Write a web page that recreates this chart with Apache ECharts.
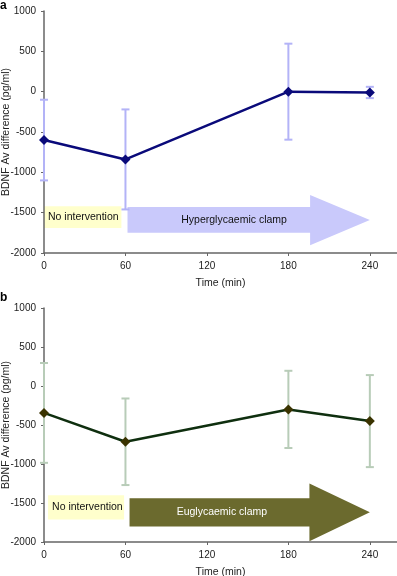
<!DOCTYPE html>
<html>
<head>
<meta charset="utf-8">
<script src="https://cdn.jsdelivr.net/npm/echarts@6/dist/echarts.min.js"></script>
<style>
  html, body { margin: 0; padding: 0; background: #fff; }
  #chart { width: 397px; height: 576px; }
</style>
</head>
<body>
<div id="chart"></div>
<script>
// time points (min)
const times = [0, 60, 180, 240];
const xTicks = [0, 60, 120, 180, 240];

// panel a: hyperglycaemic clamp
const meanA = [-600, -840, 0, -10];
const errA = [500, 620, 595, 70];

// panel b: euglycaemic clamp
const meanB = [-345, -715, -300, -450];
const errB = [640, 555, 495, 590];

// annotation extents in data units: [x0, x1, yTop, yBottom]
const noInterventionA = [0, 57, -1420, -1690];
const noInterventionB = [3, 59, -1400, -1710];
// arrows: [xStart, xShaftEnd, xTip, shaftTop, shaftBottom, headTop, headBottom]
const arrowA = [61.5, 196, 240, -1430, -1750, -1280, -1905];
const arrowB = [63, 195.5, 240, -1440, -1800, -1250, -1990];

const FONT = 'Liberation Sans, Arial, sans-serif';
const chart = echarts.init(document.getElementById('chart'));

function xAxisFor(gi) {
  return {
    type: 'value', gridIndex: gi, min: 0, max: 260,
    name: 'Time (min)', nameLocation: 'middle', nameGap: 25, nameMoveOverlap: false,
    nameTextStyle: { fontFamily: FONT, fontSize: 10.5, color: '#222' },
    axisLine: { onZero: false, lineStyle: { color: '#666', width: 1.5 } },
    axisTick: { customValues: xTicks, length: 3, lineStyle: { color: '#666' } },
    axisLabel: { customValues: xTicks, fontFamily: FONT, fontSize: 10, color: '#222', margin: 8 },
    splitLine: { show: false }
  };
}

function yAxisFor(gi) {
  return {
    type: 'value', gridIndex: gi, min: -2000, max: 1000, interval: 500,
    name: 'BDNF Av difference (pg/ml)', nameLocation: 'middle', nameGap: 32, nameRotate: 90,
    nameMoveOverlap: false,
    nameTextStyle: { fontFamily: FONT, fontSize: 10.5, color: '#222' },
    axisLine: { show: true, onZero: false, lineStyle: { color: '#666', width: 1.5 } },
    axisTick: { show: true, length: 3, lineStyle: { color: '#666' } },
    axisLabel: { fontFamily: FONT, fontSize: 10, color: '#222', margin: 8, formatter: v => String(v) },
    splitLine: { show: false }
  };
}

function errorSeries(gi, means, errs, color) {
  return {
    type: 'custom', xAxisIndex: gi, yAxisIndex: gi, z: 1, clip: false,
    data: times.map((t, i) => [t, means[i] + errs[i], means[i] - errs[i]]),
    renderItem: function (params, api) {
      const hi = api.coord([api.value(0), api.value(1)]);
      const lo = api.coord([api.value(0), api.value(2)]);
      const w = 4;
      const style = { stroke: color, lineWidth: 2 };
      return {
        type: 'group',
        children: [
          { type: 'line', shape: { x1: hi[0], y1: hi[1], x2: lo[0], y2: lo[1] }, style: style },
          { type: 'line', shape: { x1: hi[0] - w, y1: hi[1], x2: hi[0] + w, y2: hi[1] }, style: style },
          { type: 'line', shape: { x1: lo[0] - w, y1: lo[1], x2: lo[0] + w, y2: lo[1] }, style: style }
        ]
      };
    }
  };
}

function lineSeries(gi, means, lineColor, markColor) {
  return {
    type: 'line', xAxisIndex: gi, yAxisIndex: gi, z: 3,
    data: times.map((t, i) => [t, means[i]]),
    symbol: 'diamond', symbolSize: 10, showSymbol: true,
    lineStyle: { color: lineColor, width: 2.5 },
    itemStyle: { color: markColor },
    animation: false
  };
}

function annotationSeries(gi, box, arrow, arrowColor, label, labelX, labelColor) {
  return {
    type: 'custom', xAxisIndex: gi, yAxisIndex: gi, z: 0, silent: true, clip: false,
    data: [[0]],
    renderItem: function (params, api) {
      const c = (x, y) => api.coord([x, y]);
      const b0 = c(box[0], box[2]), b1 = c(box[1], box[3]);
      const [xs, xe, xt, st, sb, ht, hb] = arrow;
      const pts = [c(xs, st), c(xe, st), c(xe, ht), c(xt, (st + sb) / 2), c(xe, hb), c(xe, sb), c(xs, sb)];
      const mid = c(labelX, (st + sb) / 2);
      return {
        type: 'group',
        children: [
          { type: 'rect', shape: { x: b0[0], y: b0[1], width: b1[0] - b0[0], height: b1[1] - b0[1] },
            style: { fill: '#ffffcc' } },
          { type: 'text', x: b0[0] + 4, y: (b0[1] + b1[1]) / 2,
            style: { text: 'No intervention', fill: '#111', font: '10.5px ' + FONT, verticalAlign: 'middle' } },
          { type: 'polygon', shape: { points: pts }, style: { fill: arrowColor } },
          { type: 'text', x: mid[0], y: mid[1],
            style: { text: label, fill: labelColor, font: '10.5px ' + FONT, align: 'center', verticalAlign: 'middle' } }
        ]
      };
    }
  };
}

chart.setOption({
  animation: false,
  grid: [
    { left: 44, right: 0, top: 11, height: 242, outerBoundsMode: 'none', containLabel: false },
    { left: 44, right: 0, top: 308, height: 234, outerBoundsMode: 'none', containLabel: false }
  ],
  xAxis: [xAxisFor(0), xAxisFor(1)],
  yAxis: [yAxisFor(0), yAxisFor(1)],
  graphic: [
    { type: 'text', left: 0, top: 0, style: { text: 'a', font: 'bold 12px ' + FONT, fill: '#000' } },
    { type: 'text', left: 0, top: 292, style: { text: 'b', font: 'bold 12px ' + FONT, fill: '#000' } }
  ],
  series: [
    annotationSeries(0, noInterventionA, arrowA, '#c9c9fb', 'Hyperglycaemic clamp', 140, '#111'),
    errorSeries(0, meanA, errA, '#b3b3f7'),
    lineSeries(0, meanA, '#0a0a7a', '#0a0a7a'),
    annotationSeries(1, noInterventionB, arrowB, '#6b6a2e', 'Euglycaemic clamp', 131, '#fff'),
    errorSeries(1, meanB, errB, '#b8ccb8'),
    lineSeries(1, meanB, '#0f2f0f', '#3a3300')
  ]
});
</script>
</body>
</html>
